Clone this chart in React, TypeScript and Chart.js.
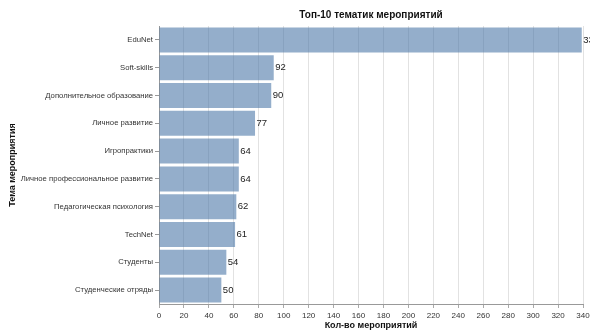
import React, { useEffect, useRef } from "react";
import { Chart, registerables } from "chart.js";

Chart.register(...registerables);

const categories = [
  "EduNet",
  "Soft-skills",
  "Дополнительное образование",
  "Личное развитие",
  "Игропрактики",
  "Личное профессиональное развитие",
  "Педагогическая психология",
  "TechNet",
  "Студенты",
  "Студенческие отряды",
];
const counts = [339, 92, 90, 77, 64, 64, 62, 61, 54, 50];
const chartTitle = "Топ-10 тематик мероприятий";
const xTitle = "Кол-во мероприятий";
const yTitle = "Тема мероприятия";

const FONT = "'Liberation Sans', Arial, sans-serif";

const valueLabels = {
  id: "valueLabels",
  afterDatasetsDraw(chart: any) {
    const ctx = chart.ctx;
    const meta = chart.getDatasetMeta(0);
    ctx.save();
    ctx.font = `9.5px ${FONT}`;
    ctx.fillStyle = "#222";
    ctx.textAlign = "left";
    ctx.textBaseline = "middle";
    meta.data.forEach((bar: any, i: number) => {
      ctx.fillText(String(counts[i]), bar.x + 1.5, bar.y);
    });
    ctx.restore();
  },
};

export default function App() {
  const ref = useRef<HTMLCanvasElement>(null);
  useEffect(() => {
    if (!ref.current) return;
    const chart = new Chart(ref.current, {
      type: "bar",
      data: {
        labels: categories,
        datasets: [
          {
            data: counts,
            backgroundColor: "rgba(76,120,168,0.6)",
            borderWidth: 0,
            barPercentage: 0.9,
            categoryPercentage: 1,
          },
        ],
      },
      plugins: [valueLabels],
      options: {
        indexAxis: "y",
        animation: false,
        responsive: true,
        maintainAspectRatio: false,
        layout: { padding: { left: 0, right: 7, top: 0, bottom: 0 } },
        plugins: {
          legend: { display: false },
          tooltip: { enabled: false },
          title: {
            display: true,
            text: chartTitle,
            fullSize: false,
            color: "#111",
            font: { family: FONT, size: 10, weight: "bold" },
            padding: { top: 9, bottom: 5 },
          },
        },
        scales: {
          x: {
            min: 0,
            max: 340,
            ticks: {
              stepSize: 20,
              color: "#333",
              font: { family: FONT, size: 8 },
              padding: 3,
              maxRotation: 0,
            },
            grid: {
              color: "#e2e2e2",
              tickLength: 4,
              tickColor: "#aaa",
            },
            border: { color: "#999" },
            title: {
              display: true,
              text: xTitle,
              color: "#111",
              font: { family: FONT, size: 9, weight: "bold" },
              padding: { top: 0, bottom: 0 },
            },
            afterFit(scale: any) {
              scale.height = 27;
              scale.paddingRight = 0;
              scale.paddingLeft = 0;
            },
          },
          y: {
            ticks: {
              color: "#333",
              font: { family: FONT, size: 7.7 },
              padding: 2,
              autoSkip: false,
            },
            grid: {
              offset: false,
              drawOnChartArea: false,
              tickLength: 4,
              tickColor: "#999",
            },
            border: { color: "#999" },
            title: {
              display: true,
              text: yTitle,
              color: "#111",
              font: { family: FONT, size: 9, weight: "bold" },
              padding: { top: 7, bottom: 0 },
            },
            afterFit(scale: any) {
              scale.width = 159;
            },
          },
        },
      },
    });
    return () => chart.destroy();
  }, []);
  return (
    <div style={{ position: "fixed", left: 0, top: 0, width: 590, height: 331, background: "#fff" }}>
      <canvas ref={ref} />
    </div>
  );
}
